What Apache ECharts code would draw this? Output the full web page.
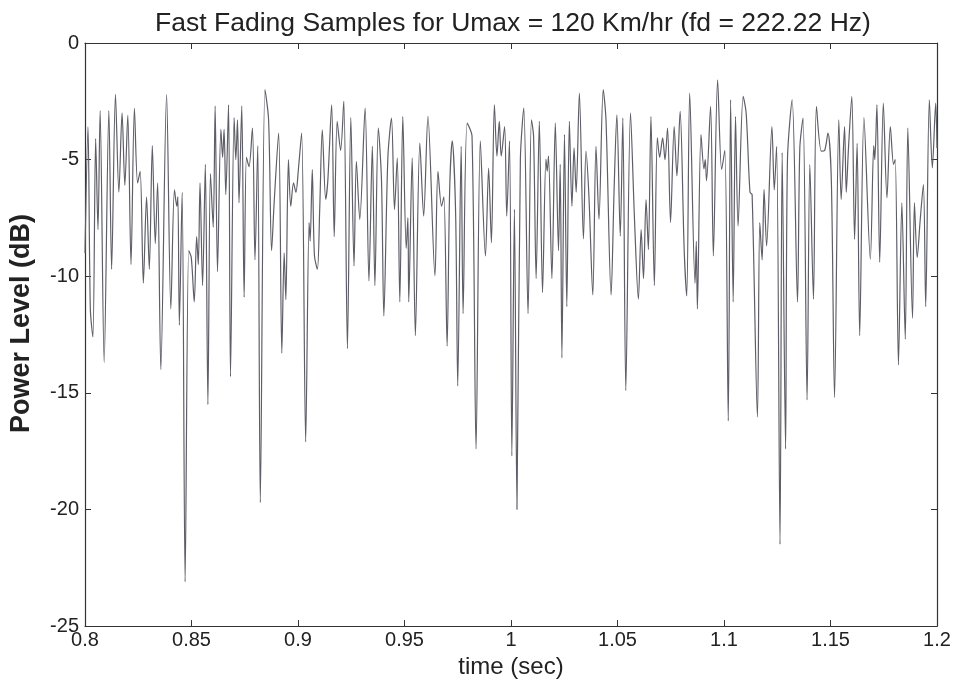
<!DOCTYPE html>
<html>
<head>
<meta charset="utf-8">
<script src="https://cdn.jsdelivr.net/npm/echarts@6/dist/echarts.min.js"></script>
<style>html,body{margin:0;padding:0;background:#fff}#c{width:955px;height:684px}</style>
</head>
<body>
<div id="c"></div>
<script>
var chartTitle = 'Fast Fading Samples for Umax = 120 Km/hr (fd = 222.22 Hz)';
var xLabel = 'time (sec)';
var yLabel = 'Power Level (dB)';
var xTicks = [0.8, 0.85, 0.9, 0.95, 1, 1.05, 1.1, 1.15, 1.2];
var yTicks = [-25, -20, -15, -10, -5, 0];

var times = [
0.8000,0.8014,0.8025,0.8037,0.8050,0.8061,0.8071,0.8090,0.8112,0.8125,0.8143,0.8159,0.8174,0.8187,0.8201,0.8216,0.8232,0.8247,0.8259,0.8274,0.8289,0.8302,0.8316,0.8330,0.8341,0.8356,0.8383,0.8403,
0.8420,0.8431,0.8436,0.8443,0.8456,0.8470,0.8487,0.8499,0.8513,0.8524,0.8532,0.8540,0.8552,0.8565,0.8577,0.8589,0.8602,0.8611,0.8622,0.8638,0.8646,0.8653,0.8661,0.8674,0.8683,0.8700,0.8708,0.8716,0.8723,0.8736,0.8747,0.8758,0.8770,0.8786,0.8798,
0.8811,0.8823,0.8845,0.8862,0.8876,0.8888,0.8909,0.8924,0.8935,0.8943,0.8955,0.8966,0.8979,0.8990,0.9002,0.9017,0.9036,0.9052,0.9057,0.9067,0.9077,0.9091,0.9102,0.9114,0.9130,0.9140,0.9158,0.9170,0.9184,0.9200,0.9215,
0.9232,0.9248,0.9263,0.9274,0.9290,0.9315,0.9333,0.9349,0.9361,0.9377,0.9392,0.9403,0.9422,0.9439,0.9453,0.9466,0.9478,0.9492,0.9508,0.9516,0.9520,0.9536,0.9551,0.9572,0.9590,0.9610,
0.9643,0.9657,0.9674,0.9685,0.9700,0.9712,0.9724,0.9740,0.9750,0.9766,0.9775,0.9794,0.9817,0.9836,0.9856,0.9880,0.9895,0.9908,0.9922,0.9934,0.9945,0.9954,0.9970,0.9980,0.9993,1.0004,1.0016,1.0028,
1.0044,1.0060,1.0080,1.0096,1.0106,1.0118,1.0133,1.0148,1.0164,1.0170,1.0176,1.0192,1.0208,1.0223,1.0231,1.0239,1.0251,1.0262,1.0274,1.0286,1.0296,1.0306,1.0321,1.0340,1.0352,1.0366,1.0384,1.0399,1.0413,1.0433,
1.0446,1.0470,1.0484,1.0497,1.0513,1.0525,1.0539,1.0561,1.0580,1.0598,1.0611,1.0622,1.0634,1.0645,1.0657,1.0673,1.0687,1.0698,1.0712,1.0723,1.0735,1.0749,1.0766,1.0779,1.0794,1.0813,1.0825,1.0839,
1.0864,1.0870,1.0875,1.0892,1.0906,1.0912,1.0918,1.0937,1.0950,1.0970,1.0989,1.1004,1.1020,1.1031,1.1043,1.1054,1.1066,1.1090,1.1104,1.1122,1.1132,1.1157,1.1168,1.1179,1.1188,1.1200,1.1225,1.1236,1.1247,
1.1263,1.1273,1.1289,1.1298,1.1320,1.1345,1.1356,1.1371,1.1390,1.1403,1.1420,1.1434,1.1457,1.1473,1.1488,1.1504,1.1519,1.1539,1.1550,1.1566,1.1574,1.1585,1.1600,1.1613,1.1625,1.1637,
1.1657,1.1687,1.1703,1.1708,1.1718,1.1731,1.1748,1.1765,1.1781,1.1796,1.1804,1.1819,1.1835,1.1851,1.1863,1.1885,1.1894,1.1907,1.1921,1.1936,1.1947,1.1964,1.1978,1.1994,1.2000
];

var powerDb = [
-9.0,-3.6,-11.4,-12.6,-4.1,-8.0,-2.9,-13.7,-2.9,-9.7,-2.2,-6.4,-3.0,-6.1,-3.1,-9.5,-2.8,-6.0,-5.5,-10.3,-6.6,-9.7,-4.4,-8.6,-6.0,-14.0,-2.2,-11.4,
-6.3,-7.0,-6.6,-12.1,-6.4,-23.1,-8.9,-9.2,-11.1,-8.3,-9.5,-6.0,-10.4,-5.2,-15.5,-5.6,-7.9,-2.7,-9.8,-3.7,-4.9,-3.7,-6.5,-2.65,-14.3,-3.2,-5.0,-3.3,-6.85,-2.7,-10.9,-4.9,-5.3,-3.65,-9.3,
-4.4,-19.7,-2.0,-3.3,-8.9,-6.85,-3.86,-13.3,-9.0,-11.0,-5.0,-7.0,-6.0,-6.4,-5.4,-3.86,-17.1,-7.7,-8.5,-5.43,-9.1,-9.7,-7.1,-3.72,-6.7,-5.9,-2.65,-8.3,-3.36,-4.6,-2.5,
-13.1,-3.2,-9.56,-5.07,-7.56,-2.79,-10.2,-4.43,-10.4,-3.65,-5.9,-11.7,-4.9,-3.22,-7.14,-4.93,-11.1,-3.15,-8.8,-7.5,-11.1,-4.93,-12.55,-4.29,-7.42,-3.15,
-9.98,-5.5,-7.0,-6.6,-13.0,-6.3,-4.2,-7.3,-14.7,-4.43,-11.6,-3.43,-4.0,-17.4,-4.2,-9.13,-5.36,-8.56,-2.65,-4.85,-3.36,-4.85,-3.58,-7.42,-4.2,-17.7,-7.13,-20.0,
-5.0,-2.79,-11.6,-3.29,-4.0,-10.1,-3.36,-10.7,-4.99,-5.5,-4.85,-10.1,-3.43,-8.9,-5.2,-13.5,-3.93,-11.3,-3.36,-7.0,-4.5,-6.4,-2.15,-8.4,-4.64,-6.6,-10.8,-4.43,-7.56,-2.0,
-3.3,-10.8,-6.3,-3.08,-8.28,-3.22,-14.9,-3.0,-7.6,-10.98,-8.0,-10.1,-6.71,-8.85,-3.15,-10.4,-4.07,-4.9,-4.07,-5.0,-3.65,-7.7,-3.58,-5.7,-2.93,-8.85,-10.84,-2.15,
-10.3,-8.5,-11.4,-3.93,-5.4,-5.0,-5.9,-2.72,-9.13,-1.58,-5.43,-4.6,-16.2,-2.44,-11.1,-3.15,-7.85,-2.29,-3.0,-6.4,-6.5,-16.04,-7.7,-9.3,-6.28,-8.7,-3.58,-6.3,-4.43,
-21.5,-4.7,-17.4,-5.0,-2.44,-11.1,-4.5,-3.22,-15.3,-5.21,-10.98,-2.72,-4.64,-4.6,-3.86,-5.9,-15.2,-3.29,-6.71,-3.58,-6.4,-4.4,-2.29,-8.42,-4.3,-12.55,
-3.2,-9.27,-4.4,-5.0,-2.65,-9.4,-2.58,-6.64,-3.58,-5.2,-5.0,-13.8,-6.85,-12.7,-3.65,-11.8,-6.85,-9.2,-7.6,-6.07,-11.3,-2.44,-5.36,-2.58,-4.5
];

var seriesData = times.map(function (t, i) { return [t, powerDb[i]]; });

var chart = echarts.init(document.getElementById('c'), null, { renderer: 'canvas' });
var font = 'Liberation Sans, Arial, sans-serif';
var axisCol = '#333';
var labelStyle = { color: '#222', fontSize: 20, fontFamily: font };

chart.setOption({
  backgroundColor: '#fff',
  animation: false,
  title: {
    text: chartTitle,
    left: 508,
    top: 5,
    textAlign: 'center',
    textStyle: { color: '#222', fontSize: 26.5, fontWeight: 'normal', fontFamily: font }
  },
  grid: { left: 80, right: 18, top: 43, bottom: 56, containLabel: false, show: false },
  xAxis: [{
    type: 'value', min: xTicks[0], max: xTicks[xTicks.length - 1], interval: 0.05,
    position: 'bottom',
    name: xLabel, nameLocation: 'middle', nameGap: 22,
    nameTextStyle: { color: '#222', fontSize: 24, fontFamily: font },
    axisLine: { show: true, onZero: false, lineStyle: { color: axisCol, width: 1.2 } },
    axisTick: { show: true, inside: true, length: 6, lineStyle: { color: axisCol } },
    axisLabel: Object.assign({ margin: 4, formatter: function (v) { return String(+v.toFixed(2)); } }, labelStyle),
    splitLine: { show: false }
  }, {
    type: 'value', min: xTicks[0], max: xTicks[xTicks.length - 1], interval: 0.05,
    position: 'top',
    axisLine: { show: true, onZero: false, lineStyle: { color: axisCol, width: 1.2 } },
    axisTick: { show: true, inside: true, length: 6, lineStyle: { color: axisCol } },
    axisLabel: { show: false },
    splitLine: { show: false }
  }],
  yAxis: [{
    type: 'value', min: yTicks[0], max: yTicks[yTicks.length - 1], interval: 5,
    position: 'left',
    name: yLabel, nameLocation: 'middle', nameGap: 50, nameRotate: 90,
    nameTextStyle: { color: '#222', fontSize: 27, fontWeight: 'bold', fontFamily: font, padding: [0, 0, 0, 22] },
    axisLine: { show: true, onZero: false, lineStyle: { color: axisCol, width: 1.2 } },
    axisTick: { show: true, inside: true, length: 6, lineStyle: { color: axisCol } },
    axisLabel: Object.assign({ margin: 6 }, labelStyle),
    splitLine: { show: false }
  }, {
    type: 'value', min: yTicks[0], max: yTicks[yTicks.length - 1], interval: 5,
    position: 'right',
    axisLine: { show: true, onZero: false, lineStyle: { color: axisCol, width: 1.2 } },
    axisTick: { show: true, inside: true, length: 6, lineStyle: { color: axisCol } },
    axisLabel: { show: false },
    splitLine: { show: false }
  }],
  series: [{
    type: 'line',
    data: seriesData,
    xAxisIndex: 0, yAxisIndex: 0,
    showSymbol: false,
    smooth: 0.3,
    lineStyle: { color: '#5e5e68', width: 1.2 },
    clip: true
  }]
});
</script>
</body>
</html>
